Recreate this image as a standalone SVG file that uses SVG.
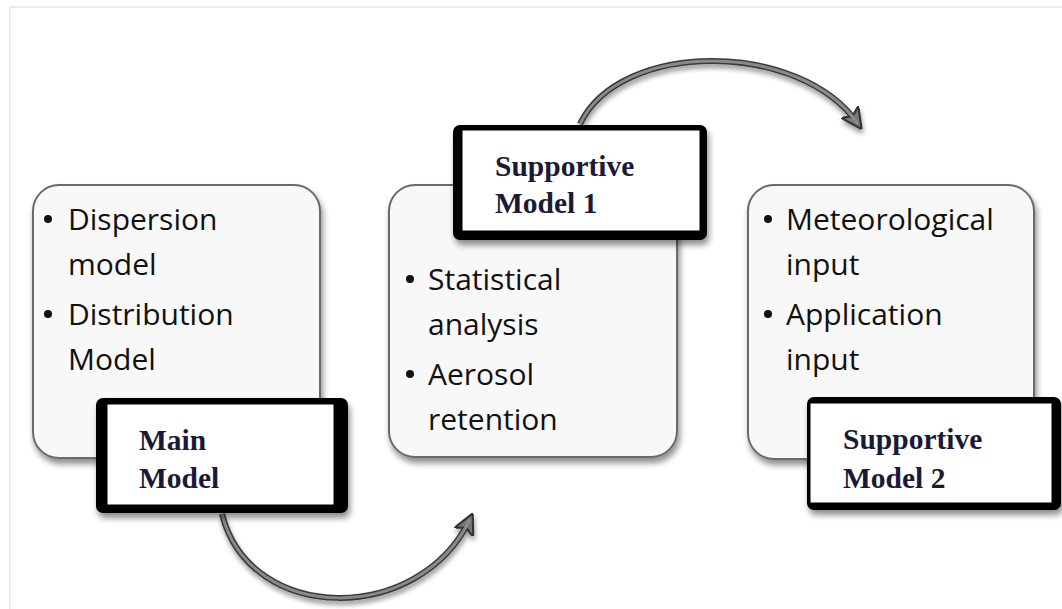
<svg xmlns="http://www.w3.org/2000/svg" width="1062" height="609" viewBox="0 0 1062 609">
<defs>
<filter id="sh" x="-10%" y="-10%" width="130%" height="130%">
<feGaussianBlur in="SourceAlpha" stdDeviation="3"/>
<feOffset dx="2" dy="5" result="b"/>
<feComponentTransfer><feFuncA type="linear" slope="0.45"/></feComponentTransfer>
<feMerge><feMergeNode/><feMergeNode in="SourceGraphic"/></feMerge>
</filter>
<filter id="ash" x="-10%" y="-20%" width="130%" height="150%">
<feGaussianBlur in="SourceAlpha" stdDeviation="2.5"/>
<feOffset dx="1" dy="4" result="b"/>
<feComponentTransfer><feFuncA type="linear" slope="0.4"/></feComponentTransfer>
<feMerge><feMergeNode/><feMergeNode in="SourceGraphic"/></feMerge>
</filter>
<marker id="ah" viewBox="0 0 10 10" refX="7" refY="5" markerWidth="3.5" markerHeight="3.5" orient="auto" markerUnits="strokeWidth">
<path d="M0,0 L10,5 L0,10 L2.5,5 Z" fill="#777" stroke="#333" stroke-width="1"/>
</marker>
</defs>
<style>
.box{fill:#f8f8f8;stroke:#6a6a6a;stroke-width:2}
.blt{font-family:"Open Sans","Liberation Sans",sans-serif;font-size:30px;fill:#111}
.lab{font-family:"Liberation Serif","DejaVu Serif",serif;font-weight:bold;font-size:29.5px;fill:#1a1a36}
.frame{fill:#000}
.inner{fill:#fff;stroke:#000;stroke-width:1}
.arcO{fill:none;stroke:#3a3a3a;stroke-width:6}
.arcI{fill:none;stroke:#8a8a8a;stroke-width:3}
</style>
<rect x="10" y="7" width="1060" height="610" fill="#fff" stroke="#ececec" stroke-width="2"/>
<g id="connectors" filter="url(#ash)">
<path class="arcO" d="M222,514 C250,625 420,625 470,519" marker-end="url(#ah)"/>
<path class="arcI" d="M222,514 C250,625 420,625 470,519"/>
<path class="arcO" d="M580,124 C620,40 800,40 858,124" marker-end="url(#ah)"/>
<path class="arcI" d="M580,124 C620,40 800,40 858,124"/>
</g>
<g id="box1">
<rect class="box" x="33" y="185" width="287" height="273" rx="26" filter="url(#sh)"/>
<circle cx="48" cy="219" r="4" fill="#111"/>
<text class="blt" x="68" y="230">Dispersion</text>
<text class="blt" x="68" y="275">model</text>
<circle cx="48" cy="314" r="4" fill="#111"/>
<text class="blt" x="68" y="325">Distribution</text>
<text class="blt" x="68" y="370">Model</text>
</g>
<g id="main-model">
<rect class="frame" x="96" y="398" width="252" height="115" rx="7" filter="url(#sh)"/>
<rect class="inner" x="107" y="404" width="227" height="101"/>
<text class="lab" x="139" y="450">Main</text>
<text class="lab" x="139" y="488">Model</text>
</g>
<g id="box2">
<rect class="box" x="389" y="185" width="288" height="272" rx="26" filter="url(#sh)"/>
<circle cx="410" cy="279" r="4" fill="#111"/>
<text class="blt" x="428" y="290">Statistical</text>
<text class="blt" x="428" y="335">analysis</text>
<circle cx="410" cy="374" r="4" fill="#111"/>
<text class="blt" x="428" y="385">Aerosol</text>
<text class="blt" x="428" y="430">retention</text>
</g>
<g id="supportive-model-1">
<rect class="frame" x="453" y="125" width="254" height="115" rx="7" filter="url(#sh)"/>
<rect class="inner" x="462" y="130" width="238" height="101"/>
<text class="lab" x="495" y="176">Supportive</text>
<text class="lab" x="495" y="213">Model 1</text>
</g>
<g id="box3">
<rect class="box" x="748" y="185" width="286" height="274" rx="26" filter="url(#sh)"/>
<circle cx="768" cy="219" r="4" fill="#111"/>
<text class="blt" x="786" y="230">Meteorological</text>
<text class="blt" x="786" y="275">input</text>
<circle cx="768" cy="314" r="4" fill="#111"/>
<text class="blt" x="786" y="325">Application</text>
<text class="blt" x="786" y="370">input</text>
</g>
<g id="supportive-model-2">
<rect class="frame" x="807" y="397" width="254" height="113" rx="7" filter="url(#sh)"/>
<rect class="inner" x="810" y="403" width="242" height="100"/>
<text class="lab" x="843" y="449">Supportive</text>
<text class="lab" x="843" y="488">Model 2</text>
</g>
</svg>
